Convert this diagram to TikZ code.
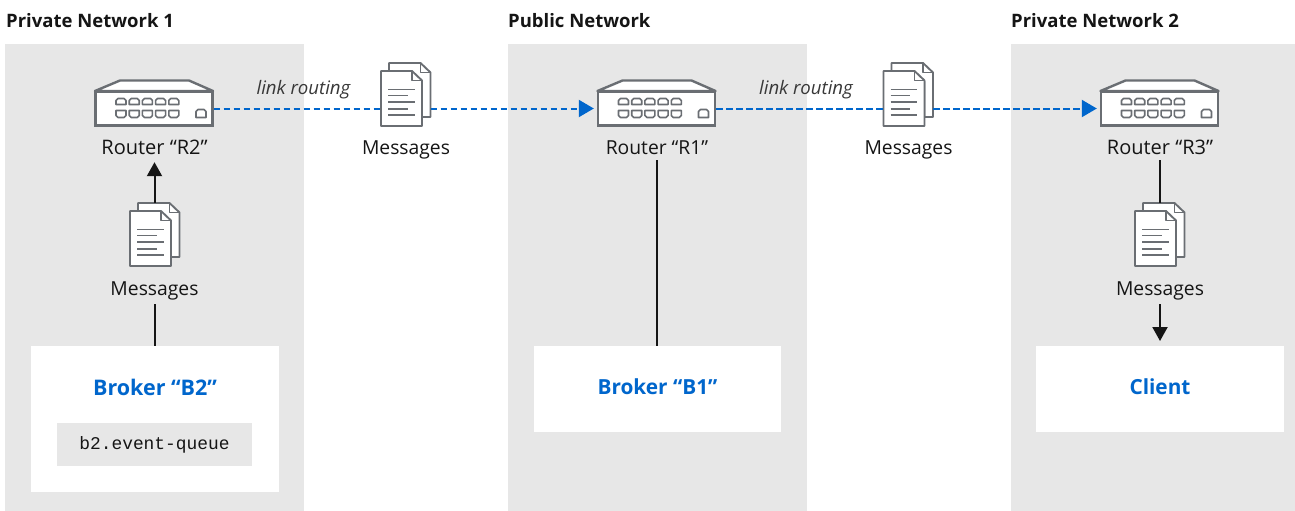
\documentclass[tikz,border=0pt]{standalone}
\usepackage{fontspec}
\setmainfont{Open Sans}
\setmonofont{Liberation Mono}
\usetikzlibrary{arrows.meta,calc}
\definecolor{panel}{HTML}{E7E7E7}
\definecolor{iconline}{HTML}{6A6E73}
\definecolor{linkblue}{HTML}{0066CC}
\definecolor{ink}{HTML}{151515}
\tikzset{
  x=1pt,y=-1pt,
  panelbox/.style={fill=panel,draw=none,inner sep=0,anchor=north west,minimum width=299,minimum height=467},
  whitebox/.style={fill=white,draw=none,inner sep=0,anchor=north west,minimum width=247.5},
  heading/.style={font=\fontsize{18.5}{20}\selectfont\bfseries,text=ink,anchor=west,inner sep=0},
  caption/.style={font=\fontsize{19.3}{22}\selectfont,text=ink,inner sep=0,text height=16,text depth=3},
  widecaption/.style={caption,font=\fontsize{20}{22}\selectfont},
  linklabel/.style={font=\fontsize{18.6}{22}\selectfont\itshape,text=ink!85,inner sep=0},
  brokerlabel/.style={font=\fontsize{20.8}{24}\selectfont\bfseries,text=linkblue,inner sep=0},
  routerbody/.style={draw=iconline,line width=2.4,fill=white,minimum width=117,minimum height=34,inner sep=0},
  docfront/.style={draw=none,inner sep=0,minimum width=41,minimum height=55},
  plain/.style={draw=ink,line width=2},
  arrowed/.style={plain,-{Triangle[length=14,width=15]}},
  dashline/.style={draw=linkblue,line width=2,dash pattern=on 6.5 off 3.5},
  tipline/.style={draw=linkblue,line width=2,-{Triangle[length=15,width=17,fill=linkblue]}},
  iconstroke/.style={draw=iconline,line width=1.9,line join=round},
  portstroke/.style={draw=iconline,line width=1.6,line join=round},
}
% router drawn around a named body node
\newcommand{\routericon}[3]{%
  \node[routerbody] (#1) at (#2,#3) {};
  \begin{scope}[shift={(#2,#3)}]
    \filldraw[iconstroke,line width=2.4,fill=white] (-59,-17.5) -- (-34,-28) -- (35,-28) -- (59,-17.5) -- cycle;
    \foreach \i in {0,...,4}{
      \draw[portstroke] ({-38+13.2*\i},-4) -- ({-38+13.2*\i},-8) -- ({-36+13.2*\i},-10) -- ({-30+13.2*\i},-10) -- ({-28+13.2*\i},-8) -- ({-28+13.2*\i},-4) -- cycle;
      \draw[portstroke] ({-38+13.2*\i},2) -- ({-28+13.2*\i},2) -- ({-28+13.2*\i},7) -- ({-30+13.2*\i},9) -- ({-36+13.2*\i},9) -- ({-38+13.2*\i},7) -- cycle;
    }
    \draw[portstroke] (42,9) -- (42,3) -- (44,1) -- (50,1) -- (52,3) -- (52,9) -- cycle;
  \end{scope}
}
% document stack: named node is the front sheet, coordinates are its centre
\newcommand{\docicon}[3]{%
  \begin{scope}[shift={(#2,#3)}]
    \filldraw[iconstroke,fill=white] (-12.5,-35.5) -- (19,-35.5) -- (29,-26) -- (29,18.5) -- (20.5,18.5) -- (20.5,-17) -- (-12.5,-17) -- cycle;
    \draw[iconstroke] (19,-35.5) -- (19,-26) -- (29,-26);
    \filldraw[iconstroke,fill=white] (-20.5,-27.5) -- (10.5,-27.5) -- (20.5,-18) -- (20.5,27.5) -- (-20.5,27.5) -- cycle;
    \draw[iconstroke] (10.5,-27.5) -- (10.5,-18) -- (20.5,-18);
    \foreach \y/\e in {-9/7,-3/0,3.5/7,10.5/0,16.5/7}
      \draw[iconstroke,line width=1.5] (-13.5,\y) -- (\e+6,\y);
  \end{scope}
  \node[docfront] (#1) at (#2,#3) {};
}
\begin{document}
\begin{tikzpicture}
\useasboundingbox (0,0) rectangle (1295,511);
\fill[white] (0,0) rectangle (1295,511);
% panels
\node[panelbox] (p1) at (5,44) {};
\node[panelbox] (p2) at (508,44) {};
\node[panelbox,minimum width=284] (p3) at (1011,44) {};
% headings
\node[heading] (h1) at (6,21) {Private Network 1};
\node[heading] (h2) at (508,21) {Public Network};
\node[heading] (h3) at (1011,21) {Private Network 2};
% end boxes
\node[whitebox,minimum height=146] (b2) at (31,346) {};
\node[whitebox,minimum height=86] (b1) at (533.5,346) {};
\node[whitebox,minimum height=86] (cl) at (1036,346) {};
\node[brokerlabel,font=\fontsize{21.5}{24}\selectfont\bfseries] (b2t) at (155,387) {Broker “B2”};
\node[brokerlabel] (b1t) at (657.5,387) {Broker “B1”};
\node[brokerlabel] (clt) at (1160,387) {Client};
\node[fill=panel,inner sep=0,minimum width=195,minimum height=43,font=\fontsize{17.9}{20}\selectfont\ttfamily,text=ink] (q) at (154.5,444.5) {b2.event-queue};
% routers
\routericon{r2}{154}{108.5}
\routericon{r1}{656.5}{108.5}
\routericon{r3}{1159.5}{108.5}
\node[widecaption] (r2t) at (154.5,148) {Router “R2”};
\node[caption] (r1t) at (657,148) {Router “R1”};
\node[widecaption] (r3t) at (1160,148) {Router “R3”};
% documents
\docicon{d1}{401.5}{98.5}
\docicon{d2}{904}{98.5}
\docicon{d3}{150.5}{238.5}
\docicon{d4}{1155.5}{238.5}
\node[caption] (d1t) at (406,148) {Messages};
\node[caption] (d2t) at (908.5,148) {Messages};
\node[caption] (d3t) at (154.5,289) {Messages};
\node[caption] (d4t) at (1160,289) {Messages};
\node[linklabel] (l1) at (303.5,89.5) {link routing};
\node[linklabel] (l2) at (806,89.5) {link routing};
% connectors
\coordinate (d1out) at ($(d1.east)+(8.5,0)$);
\coordinate (d2out) at ($(d2.east)+(8.5,0)$);
\coordinate (r1in) at ($(r1.west)+(-3,0)$);
\coordinate (r3in) at ($(r3.west)+(-3,0)$);
\coordinate (r1base) at ($(r1in)+(-15,0)$);
\coordinate (r3base) at ($(r3in)+(-15,0)$);
\draw[dashline] (r2.east) -- (r2.east -| d1.west);
\draw[dashline] (r2.east -| d1out) -- (r1base);
\draw[tipline] (r1base) -- (r1in);
\draw[dashline] (r1.east) -- (r1.east -| d2.west);
\draw[dashline] (r1.east -| d2out) -- (r3base);
\draw[tipline] (r3base) -- (r3in);
\draw[arrowed,shorten >=4.5] ($(d3.north -| r2t.south)+(0,-8)$) -- (r2t.south);
\draw[plain] ($(d3t.south)+(0,5.5)$) -- (b2.north -| d3t.south);
\draw[plain] ($(r1t.south)+(0,2.5)$) -- (b1.north -| r1t.south);
\draw[plain] ($(r3t.south)+(0,2.5)$) -- ($(r3t.south |- d4.north)+(0,-8)$);
\draw[arrowed] ($(d4t.south)+(0,5.5)$) -- ($(cl.north -| d4t.south)+(0,-5)$);
\end{tikzpicture}
\end{document}
